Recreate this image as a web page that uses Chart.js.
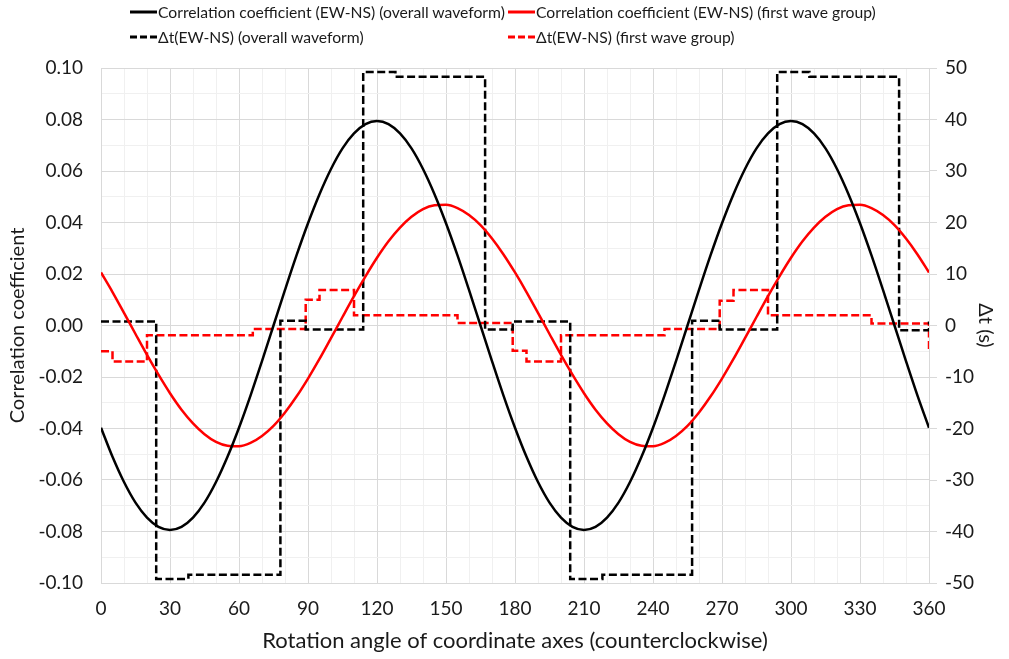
<!DOCTYPE html>
<html>
<head>
<meta charset="utf-8">
<script src="https://cdn.jsdelivr.net/npm/chart.js@4.4.1/dist/chart.umd.min.js"></script>
<style>
  html, body { margin: 0; padding: 0; background: #fff; }
  #wrap { position: relative; width: 1009px; height: 659px; }
  #legend {
    position: absolute; left: 130px; top: -1px;
    display: grid; grid-template-columns: 378px auto;
    font-family: Lato, sans-serif; font-size: 15.7px; color: #1a1a1a;
  }
  .item { display: flex; align-items: center; height: 25px; white-space: nowrap; }
  .item svg { margin-right: 1px; }
</style>
</head>
<body>
<div id="wrap">
  <canvas id="chart" width="1009" height="659"></canvas>
  <div id="legend"></div>
</div>
<script>
// rotation angle (deg), sampled every 5 degrees
const angles = [0, 5, 10, 15, 20, 25, 30, 35, 40, 45, 50, 55, 60, 65, 70, 75, 80, 85, 90,
  95, 100, 105, 110, 115, 120, 125, 130, 135, 140, 145, 150, 155, 160, 165, 170, 175, 180,
  185, 190, 195, 200, 205, 210, 215, 220, 225, 230, 235, 240, 245, 250, 255, 260, 265, 270,
  275, 280, 285, 290, 295, 300, 305, 310, 315, 320, 325, 330, 335, 340, 345, 350, 355, 360];

const corrOverall = [-0.0397, -0.0510, -0.0608, -0.0688, -0.0746, -0.0782, -0.0794, -0.0782, -0.0746,
  -0.0688, -0.0608, -0.0510, -0.0397, -0.0272, -0.0138, 0.0000, 0.0138, 0.0272, 0.0397,
  0.0510, 0.0608, 0.0688, 0.0746, 0.0782, 0.0794, 0.0782, 0.0746, 0.0688, 0.0608, 0.0510,
  0.0397, 0.0272, 0.0138, 0.0000, -0.0138, -0.0272, -0.0397,
  -0.0510, -0.0608, -0.0688, -0.0746, -0.0782, -0.0794, -0.0782, -0.0746, -0.0688, -0.0608,
  -0.0510, -0.0397, -0.0272, -0.0138, 0.0000, 0.0138, 0.0272, 0.0397, 0.0510, 0.0608,
  0.0688, 0.0746, 0.0782, 0.0794, 0.0782, 0.0746, 0.0688, 0.0608, 0.0510, 0.0397, 0.0272,
  0.0138, 0.0000, -0.0138, -0.0272, -0.0397];

const corrFirst = [0.0206, 0.0130, 0.0049, -0.0033, -0.0114, -0.0191, -0.0263, -0.0327, -0.0380,
  -0.0422, -0.0452, -0.0467, -0.0469, -0.0456, -0.0429, -0.0390, -0.0338, -0.0276, -0.0206,
  -0.0130, -0.0049, 0.0033, 0.0114, 0.0191, 0.0263, 0.0327, 0.0380, 0.0422, 0.0452, 0.0467,
  0.0469, 0.0456, 0.0429, 0.0390, 0.0338, 0.0276, 0.0206,
  0.0130, 0.0049, -0.0033, -0.0114, -0.0191, -0.0263, -0.0327, -0.0380, -0.0422, -0.0452,
  -0.0467, -0.0469, -0.0456, -0.0429, -0.0390, -0.0338, -0.0276, -0.0206, -0.0130, -0.0049,
  0.0033, 0.0114, 0.0191, 0.0263, 0.0327, 0.0380, 0.0422, 0.0452, 0.0467, 0.0469, 0.0456,
  0.0429, 0.0390, 0.0338, 0.0276, 0.0206];

// time lag (s): angles where the value changes, and the value from there on
const dtOverallAngles = [0, 24, 38, 78, 89, 114, 128, 167, 179, 204, 218, 257, 269, 294, 308, 347, 360];
const dtOverall = [0.8, -49.2, -48.4, 0.9, -0.8, 49.2, 48.3, -0.8, 0.8, -49.2, -48.4, 0.9, -0.8, 49.2, 48.3, -0.9, 0.8];

const dtFirstAngles = [0, 5, 20, 66, 89, 95, 110, 155, 179, 185, 200, 245, 269, 275, 290, 335, 360];
const dtFirst = [-5, -7, -1.9, -0.7, 5, 6.9, 2, 0.5, -4.9, -7, -1.9, -0.7, 4.8, 6.9, 2, 0.4, -5.2];

const labels = [
  "Correlation coefficient (EW-NS) (overall waveform)",
  "Correlation coefficient (EW-NS) (first wave group)",
  "Δt(EW-NS) (overall waveform)",
  "Δt(EW-NS) (first wave group)"
];

const toPoints = (xs, ys) => xs.map((x, i) => ({ x: x, y: ys[i] }));

const tickFont = { family: "Lato, sans-serif", size: 19 };
const titleFont = { family: "Lato, sans-serif", size: 20 };
const xTitleFont = { family: "Lato, sans-serif", size: 22 };
const textColor = "#1a1a1a";
const majorGrid = "#d9d9d9";
const minorGrid = "#f0f0f0";
const dash = [8, 3.5];

const chart = new Chart(document.getElementById("chart"), {
  type: "line",
  data: {
    datasets: [
      {
        label: labels[0],
        data: toPoints(angles, corrOverall),
        borderColor: "#000000",
        borderWidth: 2.5,
        cubicInterpolationMode: "monotone",
        pointRadius: 0,
        yAxisID: "y",
      },
      {
        label: labels[1],
        data: toPoints(angles, corrFirst),
        borderColor: "#ff0000",
        borderWidth: 2.5,
        cubicInterpolationMode: "monotone",
        pointRadius: 0,
        yAxisID: "y",
      },
      {
        label: labels[2],
        data: toPoints(dtOverallAngles, dtOverall),
        borderColor: "#000000",
        borderWidth: 2.5,
        borderDash: dash,
        stepped: "before",
        pointRadius: 0,
        yAxisID: "y2",
      },
      {
        label: labels[3],
        data: toPoints(dtFirstAngles, dtFirst),
        borderColor: "#ff0000",
        borderWidth: 2.5,
        borderDash: dash,
        stepped: "before",
        pointRadius: 0,
        yAxisID: "y2",
      },
    ],
  },
  options: {
    responsive: false,
    animation: false,
    layout: { padding: { top: 68, left: 0, right: 0, bottom: 0 } },
    plugins: { legend: { display: false }, tooltip: { enabled: false } },
    scales: {
      x: {
        type: "linear",
        min: 0,
        max: 360,
        afterFit: (s) => { s.height = 76; },
        ticks: {
          stepSize: 10,
          autoSkip: false,
          maxRotation: 0,
          font: tickFont,
          color: textColor,
          padding: 14,
          callback: (v) => (Math.round(v) % 30 === 0 ? v : ""),
        },
        grid: {
          color: (ctx) => (Math.round(ctx.tick.value) % 30 === 0 ? majorGrid : minorGrid),
          drawTicks: false,
        },
        border: { color: majorGrid },
        title: {
          display: true,
          text: "Rotation angle of coordinate axes (counterclockwise)",
          font: xTitleFont,
          color: textColor,
          padding: { top: 0, bottom: 5 },
        },
      },
      y: {
        position: "left",
        min: -0.1,
        max: 0.1,
        afterFit: (s) => { s.width = 101; },
        ticks: {
          stepSize: 0.01,
          autoSkip: false,
          font: tickFont,
          color: textColor,
          padding: 18,
          callback: (v) => (Math.abs(Math.round(v * 100)) % 2 === 0 ? v.toFixed(2) : ""),
        },
        grid: {
          color: (ctx) => (Math.abs(Math.round(ctx.tick.value * 100)) % 2 === 0 ? majorGrid : minorGrid),
          drawTicks: false,
        },
        border: { color: majorGrid },
        title: {
          display: true,
          text: "Correlation coefficient",
          font: titleFont,
          color: textColor,
          padding: { top: 6, bottom: 0 },
        },
      },
      y2: {
        position: "right",
        min: -50,
        max: 50,
        afterFit: (s) => { s.width = 80; },
        ticks: { stepSize: 10, font: tickFont, color: textColor, padding: 8 },
        grid: { drawOnChartArea: false, tickLength: 8, color: majorGrid },
        border: { color: majorGrid },
        title: {
          display: true,
          text: "Δt (s)",
          font: titleFont,
          color: textColor,
          padding: { top: 12, bottom: 0 },
        },
      },
    },
  },
});

// two-column legend like the original, built from the datasets
const legendEl = document.getElementById("legend");
chart.data.datasets.forEach((ds) => {
  const item = document.createElement("div");
  item.className = "item";
  const dashAttr = ds.borderDash ? ' stroke-dasharray="7,3"' : "";
  item.innerHTML =
    '<svg width="27" height="6"><line x1="0" y1="3" x2="27" y2="3" stroke="' + ds.borderColor +
    '" stroke-width="3"' + dashAttr + "/></svg>";
  const span = document.createElement("span");
  span.textContent = ds.label;
  item.appendChild(span);
  legendEl.appendChild(item);
});
</script>
</body>
</html>
